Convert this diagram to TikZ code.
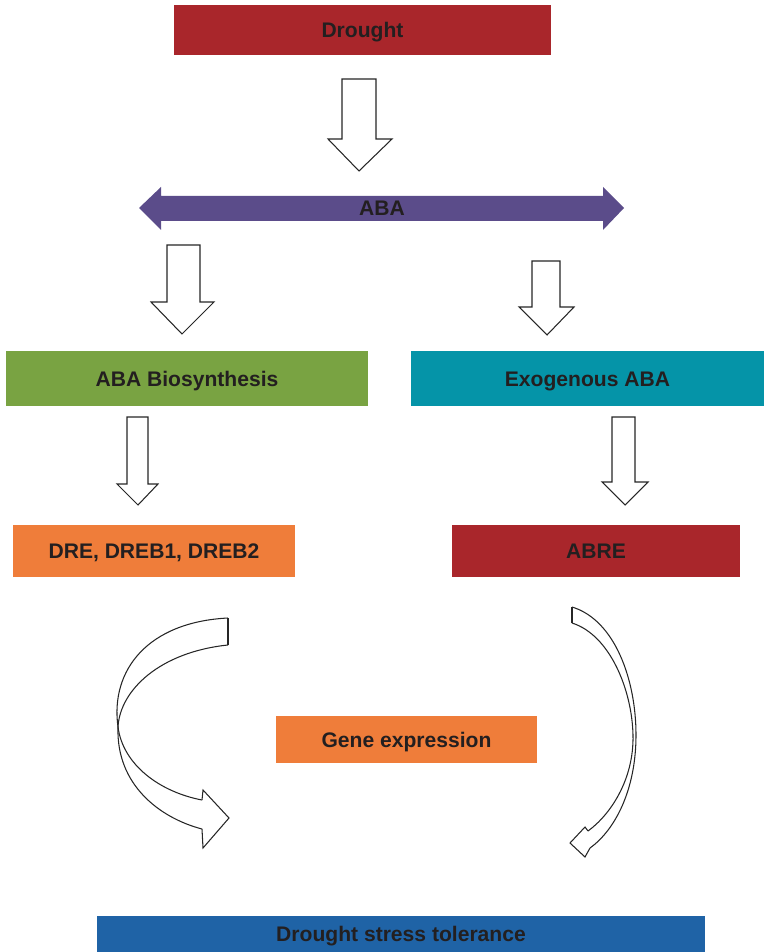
\documentclass[tikz,border=0pt]{standalone}
\usepackage{fontspec}
\setmainfont{Liberation Sans}
\usepackage{tikz}

\definecolor{droughtred}{HTML}{A9262B}
\definecolor{abapurple}{HTML}{5B4C8A}
\definecolor{biogreen}{HTML}{79A342}
\definecolor{exoteal}{HTML}{0594A8}
\definecolor{dreorange}{HTML}{EF7D3A}
\definecolor{tolblue}{HTML}{1F63A6}
\definecolor{txtgray}{HTML}{231F20}

\tikzset{
  box/.style={inner sep=0pt, text=txtgray, text height=8.6pt, text depth=0pt,
    font=\fontsize{12}{14}\selectfont\bfseries},
  hollow/.style={draw=black!85, fill=white, line width=0.6pt, line join=miter},
}

\begin{document}
\begin{tikzpicture}[x=0.02cm, y=-0.02cm]
\useasboundingbox (0,0) rectangle (765,952);

% boxes
\node[box, fill=droughtred, minimum width=7.54cm, minimum height=1.0cm] (drought) at (362.5,30) {Drought};
\node[box, fill=biogreen, minimum width=7.24cm, minimum height=1.1cm] (biosyn) at (187,378.5) {ABA Biosynthesis};
\node[box, fill=exoteal, minimum width=7.06cm, minimum height=1.1cm] (exo) at (587.5,378.5) {Exogenous ABA};
\node[box, fill=dreorange, minimum width=5.64cm, minimum height=1.04cm] (dre) at (154,551) {DRE, DREB1, DREB2};
\node[box, fill=droughtred, minimum width=5.76cm, minimum height=1.04cm] (abre) at (596,551) {ABRE};
\node[box, fill=dreorange, minimum width=5.22cm, minimum height=0.94cm] (gene) at (406.5,739.5) {Gene expression};
\node[box, fill=tolblue, minimum width=12.16cm, minimum height=0.72cm] (tol) at (401,934) {Drought stress tolerance};

% ABA double arrow
\fill[abapurple] (139,208) -- (161,187) -- (161,196) -- (603,196) -- (603,187) -- (624,208)
  -- (603,230) -- (603,221) -- (161,221) -- (161,230) -- cycle;
\node[box] (aba) at (382,208) {ABA};

% straight block arrows
\draw[hollow] (342,79) -- (376,79) -- (376,139) -- (392,139) -- (359,171) -- (328,139) -- (342,139) -- cycle;
\draw[hollow] (167,245) -- (200,245) -- (200,302) -- (214,302) -- (182,334) -- (151,302) -- (167,302) -- cycle;
\draw[hollow] (532,261) -- (560,261) -- (560,307) -- (574,307) -- (547,335) -- (519,307) -- (532,307) -- cycle;
\draw[hollow] (127,417) -- (148,417) -- (148,484) -- (158,484) -- (138,505) -- (117,484) -- (127,484) -- cycle;
\draw[hollow] (612,417) -- (635,417) -- (635,482) -- (648,482) -- (625,505) -- (602,482) -- (612,482) -- cycle;

% curved arrow to the left
\draw[hollow, fill=none] (228,618) -- (228,645);
\draw[hollow, fill=none] (228,618) .. controls (148,622) and (110,670) .. (118,727)
  .. controls (123,765) and (160,792) .. (202,800);
\draw[hollow, fill=none] (228,645) .. controls (160,652) and (120,690) .. (118,727)
  .. controls (116,785) and (160,818) .. (202,829);
\draw[hollow, fill=none] (202,800) -- (203,790) -- (229,818) -- (203,848) -- (202,829);

% curved arrow to the right
\draw[hollow, fill=none] (572,607) -- (572,623);
\draw[hollow, fill=none] (572,607) .. controls (615,620) and (636,680) .. (636,735)
  .. controls (636,790) and (615,830) .. (590,848);
\draw[hollow, fill=none] (572,623) .. controls (610,635) and (632,690) .. (633,735)
  .. controls (634,780) and (610,815) .. (588,831);
\draw[hollow, fill=none] (588,831) -- (585,827) -- (570,843) -- (585,857) -- (590,848);
\end{tikzpicture}
\end{document}
